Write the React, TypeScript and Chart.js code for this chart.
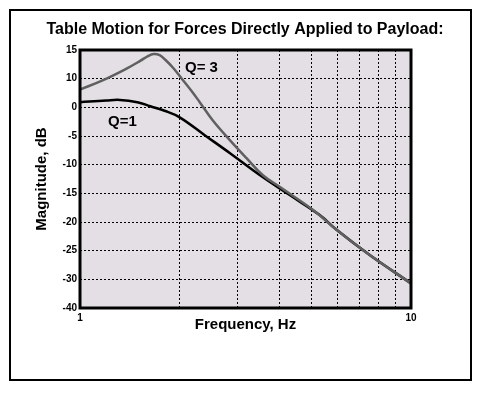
import React, { useEffect, useRef } from "react";
import { Chart, registerables } from "chart.js";

Chart.register(...registerables);

const titleText = "Table Motion for Forces Directly Applied to Payload:";
const xTitle = "Frequency, Hz";
const yTitle = "Magnitude, dB";

// Q = 3 curve (frequency Hz, magnitude dB)
const q3Freq = [1.0, 1.17, 1.387, 1.52, 1.6, 1.67, 1.74, 1.81, 1.91, 2.03, 2.17, 2.3, 2.52, 2.84, 3.19, 3.57, 4.02, 5.06, 5.97, 7.52, 10];
const q3Mag = [3.1, 4.7, 6.8, 8.1, 8.9, 9.3, 9.1, 8.3, 6.9, 5.0, 2.9, 0.9, -2.3, -5.75, -8.9, -11.85, -13.9, -17.9, -21.4, -25.8, -30.7];

// Q = 1 curve
const q1Freq = [1.0, 1.2, 1.32, 1.49, 1.63, 1.8, 2.0, 2.387, 2.84, 3.5, 4.3, 5.3, 5.97, 7.52, 10];
const q1Mag = [0.9, 1.2, 1.3, 0.9, 0.2, -0.6, -1.74, -4.9, -8.0, -11.85, -15.3, -18.8, -21.4, -25.8, -30.7];

const xGridValues = [1, 2, 3, 4, 5, 6, 7, 8, 9, 10];
const xLabeledValues = [1, 10];
const xTickLabels = ["1", "10"];

const yTickValues = [10, 5, 0, -5, -10, -15, -20, -25, -30, -35];
const yTickLabels = ["15", "10", "0", "-5", "-10", "-15", "-20", "-25", "-30", "-40"];

const seriesNames = ["Q= 3", "Q=1"];
const labelAnchorsF = [2.076, 1.215];
const labelAnchorsDb = [6.8, -2.6];

const FONT = "'Liberation Sans', Arial, Helvetica, sans-serif";

export default function App() {
  const ref = useRef<HTMLCanvasElement>(null);

  useEffect(() => {
    document.body.style.margin = "0";
    const canvas = ref.current!;
    const areaPlugin = {
      id: "areaPlugin",
      beforeDraw(chart: any) {
        const { ctx, chartArea: a } = chart;
        ctx.save();
        ctx.fillStyle = "#e4dfe4";
        ctx.fillRect(a.left, a.top, a.right - a.left, a.bottom - a.top);
        ctx.restore();
      },
      afterDraw(chart: any) {
        const { ctx, chartArea: a, scales } = chart;
        ctx.save();
        ctx.strokeStyle = "#000";
        ctx.lineWidth = 3;
        ctx.strokeRect(a.left, a.top, a.right - a.left, a.bottom - a.top);
        ctx.fillStyle = "#000";
        ctx.font = "bold 15px " + FONT;
        ctx.textBaseline = "middle";
        ctx.textAlign = "left";
        seriesNames.forEach((n, i) => {
          const x = scales.x.getPixelForValue(labelAnchorsF[i]);
          const y = scales.y.getPixelForValue(labelAnchorsDb[i]);
          ctx.fillText(n, x, y);
        });
        ctx.restore();
      },
    };

    const chart = new Chart(canvas, {
      type: "line",
      data: {
        datasets: [
          {
            label: seriesNames[0],
            data: q3Freq.map((f, i) => ({ x: f, y: q3Mag[i] })),
            borderColor: "#606060",
            borderWidth: 2.5,
            pointRadius: 0,
            tension: 0.4,
          },
          {
            label: seriesNames[1],
            data: q1Freq.map((f, i) => ({ x: f, y: q1Mag[i] })),
            borderColor: "#000000",
            borderWidth: 2.5,
            pointRadius: 0,
            tension: 0.4,
          },
        ],
      },
      options: {
        animation: false,
        responsive: false,
        parsing: false as any,
        layout: { padding: { left: 10, right: 0, top: 0, bottom: 0 } },
        plugins: {
          legend: { display: false },
          tooltip: { enabled: false },
          title: {
            display: true,
            text: titleText,
            color: "#000",
            font: { family: FONT, size: 16, weight: "bold" },
            padding: { top: 20, bottom: 10.8 },
          },
        },
        scales: {
          x: {
            type: "logarithmic",
            min: 1,
            max: 10,
            afterBuildTicks(scale: any) {
              scale.ticks = xGridValues.map((v) => ({ value: v }));
            },
            afterFit(scale: any) {
              scale.height = 86;
            },
            ticks: {
              autoSkip: false,
              maxRotation: 0,
              padding: 4,
              color: "#000",
              font: { family: FONT, size: 10, weight: "bold" },
              callback(value: any) {
                const i = xLabeledValues.indexOf(Number(value));
                return i >= 0 ? xTickLabels[i] : "";
              },
            },
            grid: {
              color: "#000",
              lineWidth: 1,
              drawTicks: false,
              tickLength: 0,
            },
            border: { display: false, dash: [2, 2] },
            title: {
              display: true,
              text: xTitle,
              color: "#000",
              font: { family: FONT, size: 15, weight: "bold" },
              padding: { top: 0, bottom: 60 },
            },
          },
          y: {
            type: "linear",
            min: -35,
            max: 10,
            afterBuildTicks(scale: any) {
              scale.ticks = yTickValues.map((v) => ({ value: v }));
            },
            afterFit(scale: any) {
              scale.width = 70;
            },
            ticks: {
              padding: 3,
              color: "#000",
              font: { family: FONT, size: 10, weight: "bold" },
              callback(value: any) {
                const i = yTickValues.indexOf(Number(value));
                return i >= 0 ? yTickLabels[i] : "";
              },
            },
            grid: {
              color: "#000",
              lineWidth: 1,
              drawTicks: false,
              tickLength: 0,
            },
            border: { display: false, dash: [2, 2] },
            title: {
              display: true,
              text: yTitle,
              color: "#000",
              font: { family: FONT, size: 15, weight: "bold" },
              padding: { top: 23, bottom: 0 },
            },
          },
          yRight: {
            type: "linear",
            position: "right",
            display: true,
            min: -35,
            max: 10,
            afterFit(scale: any) {
              scale.width = 69;
            },
            ticks: { display: false },
            grid: { display: false, drawTicks: false },
            border: { display: false },
          },
        },
      } as any,
      plugins: [areaPlugin],
    });
    return () => chart.destroy();
  }, []);

  return (
    <div style={{ position: "relative", width: 480, height: 394, background: "#fff" }}>
      <canvas ref={ref} width={480} height={394} style={{ position: "absolute", left: 0, top: 0 }} />
      <div
        style={{
          position: "absolute",
          left: 9,
          top: 9,
          width: 463,
          height: 372,
          border: "2px solid #000",
          boxSizing: "border-box",
          pointerEvents: "none",
        }}
      />
    </div>
  );
}
